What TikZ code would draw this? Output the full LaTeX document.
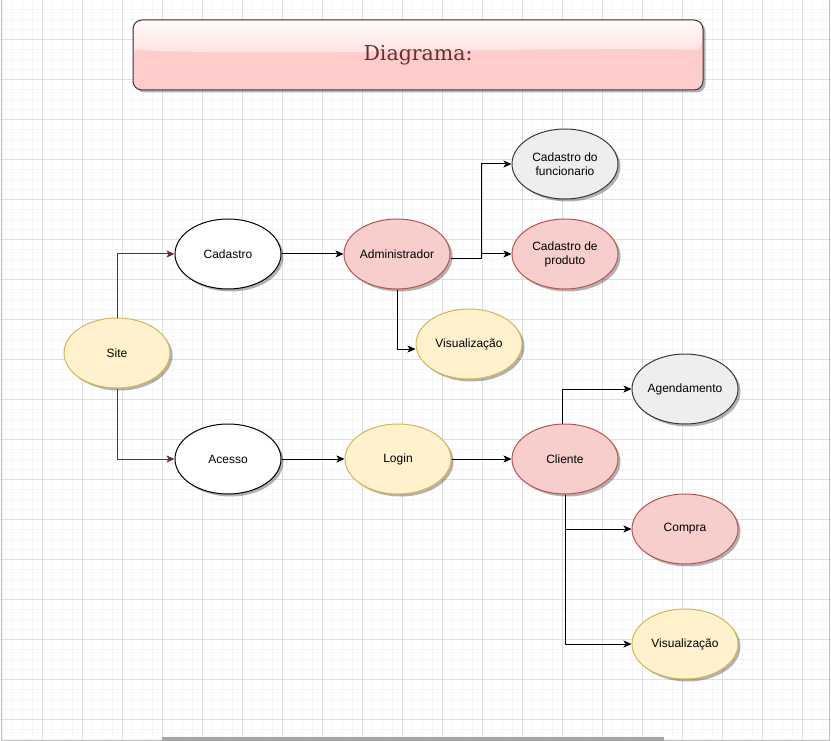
\documentclass[tikz,border=0pt]{standalone}
\usepackage{fontspec}
\setmainfont{Liberation Sans}
\newfontfamily\titlefont{DejaVu Serif}
\usetikzlibrary{arrows.meta,shapes.geometric,shadows}
\definecolor{yfill}{HTML}{FFF2CC}\definecolor{ydraw}{HTML}{D6B656}
\definecolor{rfill}{HTML}{F8CECC}\definecolor{rdraw}{HTML}{B85450}
\definecolor{gfill}{HTML}{EEEEEE}\definecolor{gdraw}{HTML}{36393D}
\definecolor{brown}{HTML}{6A2C2C}\definecolor{titletext}{HTML}{6B2E2E}
\definecolor{titlefill}{HTML}{FFCCCC}
\begin{document}
\begin{tikzpicture}[x=1pt, y=-1pt, font=\fontsize{12}{14}\selectfont, line join=round,
  minorgrid/.style={draw=black!4, line width=.6pt},
  majorgrid/.style={draw=black!12, line width=.8pt},
  oval/.style={ellipse, draw, line width=1pt, minimum width=106pt, minimum height=70pt, inner sep=0pt, align=center,
    drop shadow={shadow xshift=2.5pt, shadow yshift=-2.5pt, fill=black, opacity=.3}},
  yel/.style={oval, fill=yfill, draw=ydraw},
  red/.style={oval, fill=rfill, draw=rdraw},
  gry/.style={oval, fill=gfill, draw=gdraw},
  wht/.style={oval, fill=white, draw=black},
  arr/.style={-{Stealth[length=8pt, width=7pt, inset=2pt]}, line width=1pt},
  brarr/.style={arr, draw=brown}]
 \useasboundingbox (0,0) rectangle (831,741);
 % grid
 \foreach \x in {2,12,...,822} \draw[minorgrid] (\x,0)--(\x,741);
 \foreach \y in {9,19,...,739} \draw[minorgrid] (0,\y)--(831,\y);
 \foreach \x in {42,82,...,802} \draw[majorgrid] (\x,0)--(\x,741);
 \foreach \y in {39,79,...,719} \draw[majorgrid] (0,\y)--(831,\y);
 \draw[black!25, line width=1pt] (1.5,0)--(1.5,740.5)--(829.5,740.5)--(829.5,0);
 \fill[black!35] (162,737)--(664,737)--(664,741)--(162,741)--cycle;
 % title
 \node[draw=gdraw, fill=titlefill, rounded corners=9pt, minimum width=570pt, minimum height=70pt, line width=1pt,
   drop shadow={shadow xshift=2.5pt, shadow yshift=-2.5pt, fill=black, opacity=.3}] (title) at (418,55) {};
 \shade[top color=white!90!titlefill, bottom color=white!35!titlefill, rounded corners=8pt]
   (134,50)--(134,21)--(702,21)--(702,50)[sharp corners] .. controls (560,46) and (276,57) .. cycle;
 \node[font=\titlefont\fontsize{20.5}{24}\selectfont, text=titletext] (titletxt) at (title) {Diagrama:};
 % nodes
 \node[yel] (site) at (117,353) {Site};
 \node[wht] (cad) at (228,254) {Cadastro};
 \node[wht] (ace) at (228,459) {Acesso};
 \node[red] (adm) at (397,254) {Administrador};
 \node[gry] (func) at (565,164) {Cadastro do\\funcionario};
 \node[red] (prod) at (565,254) {Cadastro de\\produto};
 \node[yel] (vis1) at (469,344) {Visualização};
 \node[yel] (log) at (398,459) {Login};
 \node[red] (cli) at (565,459) {Cliente};
 \node[gry] (age) at (685,389) {Agendamento};
 \node[red] (com) at (685,529) {Compra};
 \node[yel] (vis2) at (685,644) {Visualização};
 % connectors
 \draw[brarr] (site.north)|-(cad.west);
 \draw[brarr] (site.south)|-(ace.west);
 \draw[arr] (cad)--(adm);
 \draw[arr] (ace)--(log);
 \draw[arr] (log)--(cli);
 \coordinate (admout) at ([yshift=-5pt]adm.east);
 \draw[arr] (admout)--++(31,0)|-(func.west);
 \draw[arr] (admout)--++(31,0)|-(prod.west);
 \draw[arr] (adm.south)|-([yshift=-5pt]vis1.west);
 \draw[arr] ([xshift=-3pt]cli.north)|-(age.west);
 \draw[arr] (cli.south)|-(com.west);
 \draw[arr] (cli.south)|-(vis2.west);
\end{tikzpicture}
\end{document}
